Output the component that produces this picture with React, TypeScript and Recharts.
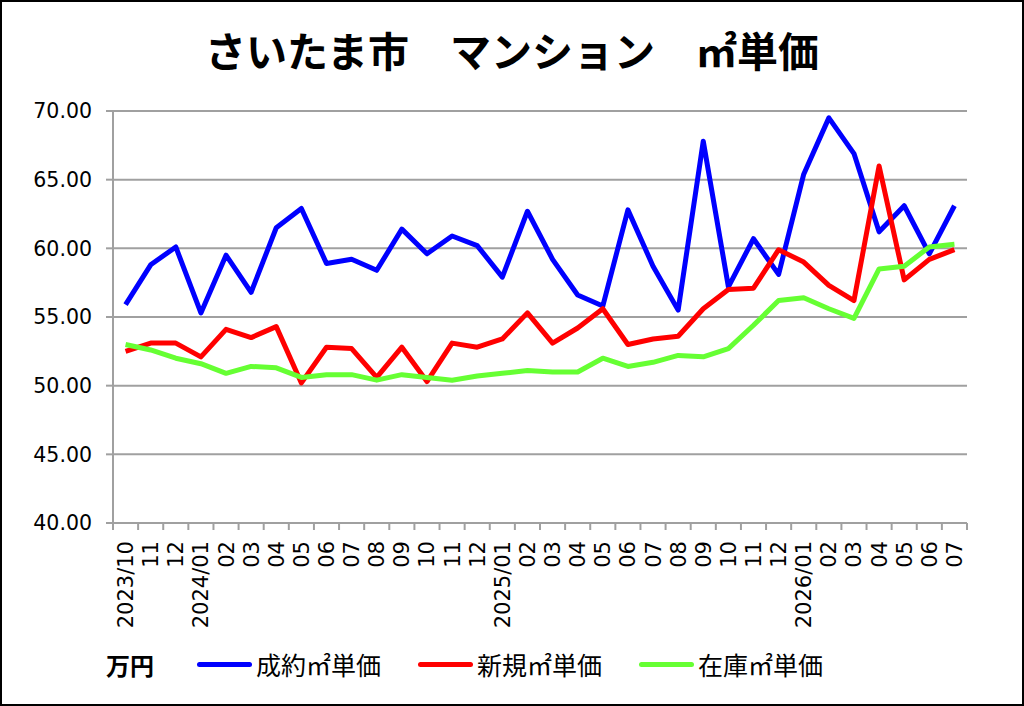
import { LineChart, Line, XAxis, YAxis, CartesianGrid, Legend } from 'recharts'

const months = [
  '2023/10', '11', '12', '2024/01', '02', '03', '04', '05', '06', '07', '08', '09',
  '10', '11', '12', '2025/01', '02', '03', '04', '05', '06', '07', '08', '09',
  '10', '11', '12', '2026/01', '02', '03', '04', '05', '06', '07',
]

// 成約㎡単価
const contract = [
  55.9, 58.8, 60.1, 55.3, 59.5, 56.8, 61.5, 62.9, 58.9, 59.2, 58.4, 61.4,
  59.6, 60.9, 60.2, 57.9, 62.7, 59.2, 56.6, 55.8, 62.8, 58.7, 55.5, 67.8,
  57.2, 60.7, 58.1, 65.4, 69.5, 66.9, 61.2, 63.1, 59.6, 63.1,
]

// 新規㎡単価
const listed = [
  52.5, 53.1, 53.1, 52.1, 54.1, 53.5, 54.3, 50.2, 52.8, 52.7, 50.6, 52.8,
  50.3, 53.1, 52.8, 53.4, 55.3, 53.1, 54.2, 55.6, 53.0, 53.4, 53.6, 55.6,
  57.0, 57.1, 59.9, 59.0, 57.3, 56.2, 66.0, 57.7, 59.2, 59.9,
]

// 在庫㎡単価
const stock = [
  53.0, 52.6, 52.0, 51.6, 50.9, 51.4, 51.3, 50.6, 50.8, 50.8, 50.4, 50.8,
  50.6, 50.4, 50.7, 50.9, 51.1, 51.0, 51.0, 52.0, 51.4, 51.7, 52.2, 52.1,
  52.7, 54.4, 56.2, 56.4, 55.6, 54.9, 58.5, 58.7, 60.1, 60.3,
]

const yTicks = [40, 45, 50, 55, 60, 65, 70]

const series = [
  { key: 'contract', name: '成約㎡単価', color: '#0000ff' },
  { key: 'listed', name: '新規㎡単価', color: '#ff0000' },
  { key: 'stock', name: '在庫㎡単価', color: '#66ff33' },
]

const data = months.map((label, i) => ({
  label,
  contract: contract[i],
  listed: listed[i],
  stock: stock[i],
}))

const W = 1024
const H = 706
const Y_W = 113
const RIGHT = 57
const BAND = (W - Y_W - RIGHT) / months.length
const GRAY = '#a0a0a0'
const NUM_FONT = '"DejaVu Sans", Verdana, sans-serif'
const JP_FONT = '"Noto Sans CJK JP", sans-serif'

// label at the month centre, tick marks on the month boundaries (Excel style)
function MonthTick(props: any) {
  const { x, y, payload, index } = props
  const left = x - BAND / 2
  const right = x + BAND / 2
  return (
    <g>
      <line x1={left} x2={left} y1={y} y2={y + 7} stroke={GRAY} strokeWidth={2} />
      {index === months.length - 1 && (
        <line x1={right} x2={right} y1={y} y2={y + 7} stroke={GRAY} strokeWidth={2} />
      )}
      <text
        x={x + 7.5}
        y={y + 18}
        transform={`rotate(-90, ${x + 7.5}, ${y + 18})`}
        textAnchor="end"
        fill="#000"
        fontSize={21}
        fontFamily={NUM_FONT}
      >
        {payload.value}
      </text>
    </g>
  )
}

function LegendRow() {
  return (
    <div
      style={{
        display: 'flex',
        alignItems: 'center',
        height: 40,
        paddingLeft: 106,
        fontFamily: JP_FONT,
        color: '#000',
      }}
    >
      <span style={{ fontSize: 24, fontWeight: 700, marginRight: 43 }}>万円</span>
      {series.map((s) => (
        <span key={s.key} style={{ display: 'flex', alignItems: 'center', marginRight: 37 }}>
          <span
            style={{
              width: 55,
              height: 5,
              borderRadius: 3,
              background: s.color,
              marginRight: 4,
            }}
          />
          <span style={{ fontSize: 25 }}>{s.name}</span>
        </span>
      ))}
    </div>
  )
}

export default function App() {
  return (
    <div style={{ position: 'fixed', left: 0, top: 0, width: W, height: H, background: '#fff' }}>
      <div
        style={{
          position: 'absolute',
          top: 29,
          left: 0,
          width: W,
          textAlign: 'center',
          fontFamily: JP_FONT,
          fontWeight: 700,
          fontSize: 41,
          lineHeight: '41px',
          color: '#000',
        }}
      >
        さいたま市　マンション　㎡単価
      </div>
      <LineChart
        width={W}
        height={H}
        data={data}
        margin={{ top: 111, right: RIGHT, left: 0, bottom: 0 }}
      >
        <CartesianGrid vertical={false} stroke={GRAY} strokeWidth={2} />
        <XAxis
          dataKey="label"
          interval={0}
          height={183}
          padding={{ left: BAND / 2, right: BAND / 2 }}
          tickLine={false}
          tickSize={0}
          tickMargin={0}
          axisLine={{ stroke: GRAY, strokeWidth: 2 }}
          tick={<MonthTick />}
        />
        <YAxis
          width={Y_W}
          domain={[40, 70]}
          ticks={yTicks}
          tickFormatter={(v: number) => v.toFixed(2)}
          tickSize={7}
          tickMargin={14}
          tickLine={{ stroke: GRAY, strokeWidth: 2 }}
          axisLine={{ stroke: GRAY, strokeWidth: 2 }}
          tick={{ fill: '#000', fontSize: 20.5, fontFamily: NUM_FONT }}
        />
        <Legend
          verticalAlign="middle"
          align="center"
          wrapperStyle={{ top: 644, left: 0, width: W }}
          content={() => <LegendRow />}
        />
        {series.map((s) => (
          <Line
            key={s.key}
            type="linear"
            dataKey={s.key}
            name={s.name}
            stroke={s.color}
            strokeWidth={5}
            strokeLinejoin="round"
            dot={false}
            activeDot={false}
            isAnimationActive={false}
          />
        ))}
      </LineChart>
      <div
        style={{
          position: 'absolute',
          inset: 0,
          border: '2px solid #000',
          boxSizing: 'border-box',
          pointerEvents: 'none',
        }}
      />
    </div>
  )
}
